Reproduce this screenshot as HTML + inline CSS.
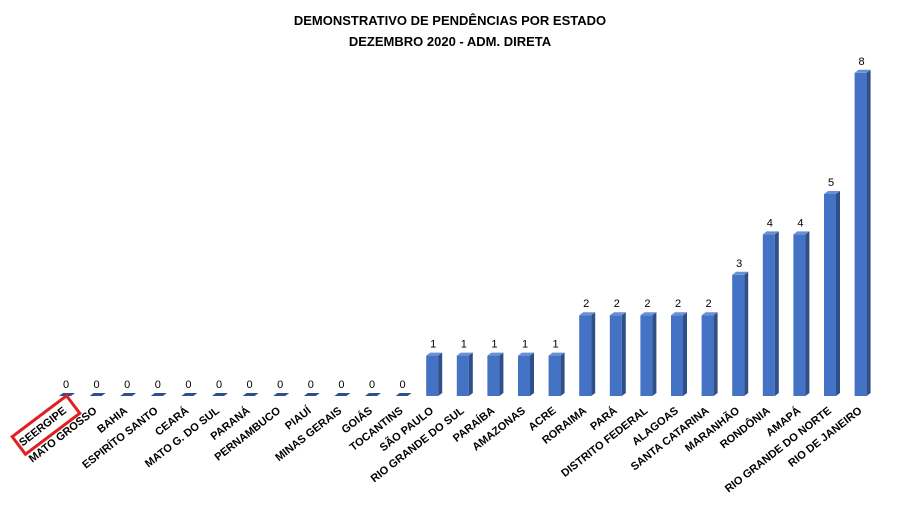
<!DOCTYPE html>
<html><head><meta charset="utf-8"><style>
body{margin:0;background:#fff}
svg{display:block;font-family:"Liberation Sans",sans-serif}
</style></head><body>
<svg id="chart" width="897" height="525" viewBox="0 0 897 525">
<text x="450" y="25" text-anchor="middle" font-size="13" font-weight="bold">DEMONSTRATIVO DE PENDÊNCIAS POR ESTADO</text>
<text x="450" y="46" text-anchor="middle" font-size="13" font-weight="bold">DEZEMBRO 2020 - ADM. DIRETA</text>
<g id="bars"></g>
<rect x="-34" y="-11" width="68" height="22" fill="none" stroke="#e02020" stroke-width="3" transform="translate(46,425) rotate(-37)"/>
</svg>
<script>
const categories=["SEERGIPE","MATO GROSSO","BAHIA","ESPIRÍTO  SANTO","CEARÁ","MATO G. DO SUL","PARANÁ","PERNAMBUCO","PIAUÍ","MINAS GERAIS","GOIÁS","TOCANTINS","SÃO PAULO","RIO GRANDE DO SUL","PARAÍBA","AMAZONAS","ACRE","RORAIMA","PARÁ","DISTRITO  FEDERAL","ALAGOAS","SANTA CATARINA","MARANHÃO","RONDÔNIA","AMAPÁ","RIO GRANDE DO NORTE","RIO DE JANEIRO"];
const values=[0,0,0,0,0,0,0,0,0,0,0,0,1,1,1,1,1,2,2,2,2,2,3,4,4,5,8];
const NS="http://www.w3.org/2000/svg";
const g=document.getElementById("bars");
const x0=65,step=30.6,base=396,unit=40.4;
const xs=i=>x0+i*step;
const ys=v=>base-v*unit;
function mk(t,a){const e=document.createElementNS(NS,t);for(const k in a)e.setAttribute(k,a[k]);g.appendChild(e);return e;}
categories.forEach((c,i)=>{
  const cx=xs(i),v=values[i],y=ys(v),l=cx-6,r=cx+6,d=4;
  if(v>0){
    const f=mk("rect",{x:l,y:y,width:12,height:base-y,fill:"#4472c4"});
    
    
    const s=mk("polygon",{points:`${r},${y} ${r+d},${y-3} ${r+d},${base-3} ${r},${base}`,fill:"#2f4f8a"});
    
    
    const tp=mk("polygon",{points:`${l},${y} ${l+d},${y-3} ${r+d},${y-3} ${r},${y}`,fill:"#6a8fd4"});
    
    
  } else {
    const z=mk("polygon",{points:`${l},${base} ${l+d},${base-3} ${r+d},${base-3} ${r},${base}`,fill:"#2f4f8a"});
    
    
  }
  const vl=mk("text",{x:cx+1,y:y-8,"text-anchor":"middle","font-size":"11"});
  vl.textContent=v;
  
  
  const t=mk("text",{x:0,y:0,"text-anchor":"end","font-size":"11","font-weight":"bold",transform:`translate(${cx+2},${412}) rotate(-38)`});
  t.textContent=c;
  
  
});
</script>
</body></html>
